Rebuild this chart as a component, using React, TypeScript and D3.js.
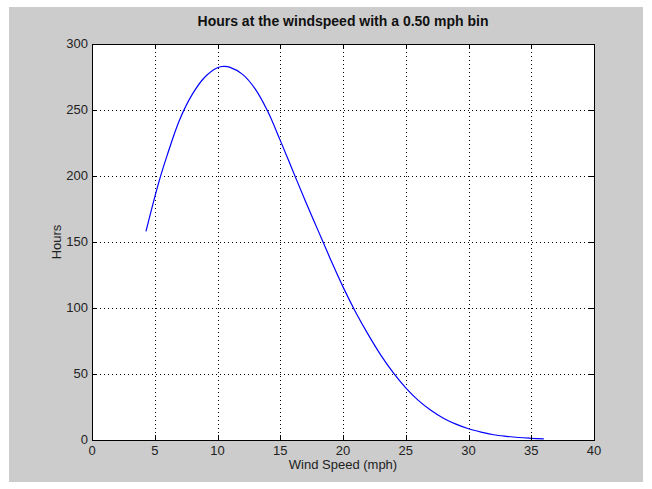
import * as d3 from "d3";
import { useEffect, useRef } from "react";

// wind speed (mph)
const windSpeed = [
  4.3, 5, 5.5, 6, 7, 8, 9, 10, 10.5, 11, 12, 13, 14, 15, 16, 17, 18, 19, 20,
  21, 22, 23, 24, 25, 26, 27, 28, 29, 30, 31, 32, 33, 34, 35, 36,
];
// hours in each 0.5 mph bin
const hours = [
  158, 184, 201, 216, 243, 262, 275, 282, 283, 282.3, 277, 266, 249, 227, 204,
  181, 159, 137, 116, 97, 80, 64.5, 51, 39.5, 30, 22.5, 16.5, 12, 8.5, 6, 4,
  2.8, 1.9, 1.3, 0.8,
];
const xTicks = [0, 5, 10, 15, 20, 25, 30, 35, 40];
const yTicks = [0, 50, 100, 150, 200, 250, 300];

const title = "Hours at the windspeed with a 0.50 mph bin";
const xLabel = "Wind Speed (mph)";
const yLabel = "Hours";

export default function App() {
  const svgRef = useRef<SVGSVGElement | null>(null);

  useEffect(() => {
    if (!svgRef.current) return;
    const width = 652;
    const height = 489;
    const plot = { left: 92, right: 594, top: 44, bottom: 440 };
    const font = "'Liberation Sans', Arial, Helvetica, sans-serif";

    const svg = d3.select(svgRef.current);
    svg.selectAll("*").remove();
    svg.attr("width", width).attr("height", height);

    svg.append("rect").attr("width", width).attr("height", height).attr("fill", "#fff");
    svg
      .append("rect")
      .attr("x", 9)
      .attr("y", 7)
      .attr("width", 634)
      .attr("height", 475)
      .attr("fill", "#cccccc");

    const x = d3.scaleLinear().domain([0, 40]).range([plot.left, plot.right]);
    const y = d3.scaleLinear().domain([0, 300]).range([plot.bottom, plot.top]);

    svg
      .append("rect")
      .attr("x", plot.left)
      .attr("y", plot.top)
      .attr("width", plot.right - plot.left)
      .attr("height", plot.bottom - plot.top)
      .attr("fill", "#fff");

    const grid = svg.append("g").attr("stroke", "#000").attr("stroke-width", 1)
      .attr("stroke-dasharray", "1,3").attr("shape-rendering", "crispEdges");
    xTicks.slice(1, -1).forEach((t) => {
      grid.append("line")
        .attr("x1", Math.round(x(t)) + 0.5).attr("x2", Math.round(x(t)) + 0.5)
        .attr("y1", plot.top).attr("y2", plot.bottom);
    });
    yTicks.slice(1, -1).forEach((t) => {
      grid.append("line")
        .attr("y1", Math.round(y(t)) + 0.5).attr("y2", Math.round(y(t)) + 0.5)
        .attr("x1", plot.left).attr("x2", plot.right);
    });

    const pts = windSpeed.map((w, i) => [w, hours[i]] as [number, number]);
    const line = d3
      .line<[number, number]>()
      .x((d) => x(d[0]))
      .y((d) => y(d[1]))
      .curve(d3.curveCatmullRom.alpha(0.5));
    svg
      .append("path")
      .datum(pts)
      .attr("fill", "none")
      .attr("stroke", "#0000ff")
      .attr("stroke-width", 1.2)
      .attr("d", line);

    // box and inward ticks
    const axes = svg.append("g").attr("stroke", "#000").attr("stroke-width", 1)
      .attr("shape-rendering", "crispEdges");
    axes.append("rect")
      .attr("x", plot.left + 0.5).attr("y", plot.top + 0.5)
      .attr("width", plot.right - plot.left).attr("height", plot.bottom - plot.top)
      .attr("fill", "none");
    xTicks.forEach((t) => {
      const px = Math.round(x(t)) + 0.5;
      axes.append("line").attr("x1", px).attr("x2", px)
        .attr("y1", plot.bottom).attr("y2", plot.bottom - 5);
      axes.append("line").attr("x1", px).attr("x2", px)
        .attr("y1", plot.top).attr("y2", plot.top + 5);
    });
    yTicks.forEach((t) => {
      const py = Math.round(y(t)) + 0.5;
      axes.append("line").attr("y1", py).attr("y2", py)
        .attr("x1", plot.left).attr("x2", plot.left + 5);
      axes.append("line").attr("y1", py).attr("y2", py)
        .attr("x1", plot.right).attr("x2", plot.right - 5);
    });

    const labels = svg.append("g").attr("font-family", font).attr("fill", "#222");
    xTicks.forEach((t) => {
      labels.append("text").attr("x", x(t)).attr("y", plot.bottom + 15)
        .attr("text-anchor", "middle").attr("font-size", 13).text(t);
    });
    yTicks.forEach((t) => {
      labels.append("text").attr("x", plot.left - 4).attr("y", y(t) + 4)
        .attr("text-anchor", "end").attr("font-size", 13).text(t);
    });

    labels.append("text")
      .attr("x", (plot.left + plot.right) / 2).attr("y", plot.bottom + 29)
      .attr("text-anchor", "middle").attr("font-size", 13).text(xLabel);
    labels.append("text")
      .attr("transform", `translate(61,${(plot.top + plot.bottom) / 2}) rotate(-90)`)
      .attr("text-anchor", "middle").attr("font-size", 13).text(yLabel);
    labels.append("text")
      .attr("x", (plot.left + plot.right) / 2).attr("y", 26)
      .attr("text-anchor", "middle").attr("font-size", 14)
      .attr("font-weight", "bold").attr("fill", "#111").text(title);
  }, []);

  return <svg ref={svgRef} style={{ position: "absolute", left: 0, top: 0, display: "block" }} />;
}
